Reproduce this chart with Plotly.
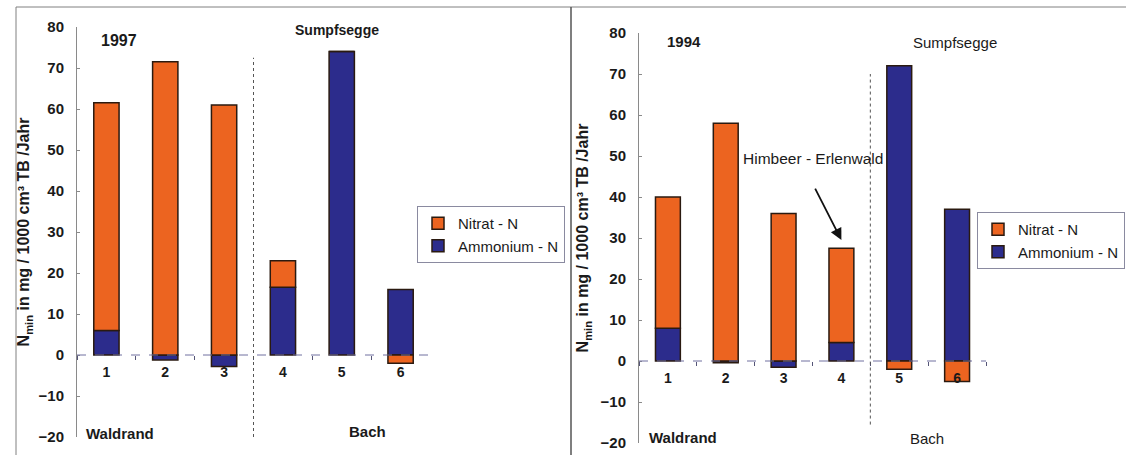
import plotly.graph_objects as go

# ---------------- data ----------------
categories = ["1", "2", "3", "4", "5", "6"]
nitrat_1997 = [55.5, 71.5, 61.0, 6.5, 0.0, -2.0]
ammonium_1997 = [6.0, -1.2, -2.8, 16.5, 74.0, 16.0]
nitrat_1994 = [32.0, 58.0, 36.0, 23.0, -2.0, -5.0]
ammonium_1994 = [8.0, -0.4, -1.5, 4.5, 72.0, 37.0]
y_tickvals = [-20, -10, 0, 10, 20, 30, 40, 50, 60, 70, 80]
series_names = ["Nitrat - N", "Ammonium - N"]

# ---------------- style ----------------
W, H = 1126, 455
FONT = "Arial, Liberation Sans, sans-serif"
ORANGE = "#EC6420"
BLUE = "#2C2C8C"
EDGE = "#2a1a10"
TXT = "#1a1a1a"


def fx(px):
    return px / W


def fy(px):
    return 1 - px / H


YMIN, YMAX = -20, 80

fig = go.Figure()

panels = [
    dict(xa="x", ya="y", nit=nitrat_1997, amm=ammonium_1997, legend="legend"),
    dict(xa="x2", ya="y2", nit=nitrat_1994, amm=ammonium_1994, legend="legend2"),
]
for p in panels:
    fig.add_trace(go.Bar(
        x=categories, y=p["amm"], name=series_names[1], xaxis=p["xa"], yaxis=p["ya"],
        marker=dict(color=BLUE, line=dict(color=EDGE, width=1.5)),
        legend=p["legend"], legendrank=2, hoverinfo="skip"))
    fig.add_trace(go.Bar(
        x=categories, y=p["nit"], name=series_names[0], xaxis=p["xa"], yaxis=p["ya"],
        marker=dict(color=ORANGE, line=dict(color=EDGE, width=1.5)),
        legend=p["legend"], legendrank=1, hoverinfo="skip"))

left_x = [fx(77), fx(430)]
left_y = [fy(437), fy(27)]
right_x = [fx(639), fx(986)]
right_y = [fy(443), fy(33)]


def zero_pos(dom):
    return dom[0] + (0 - YMIN) / (YMAX - YMIN) * (dom[1] - dom[0])


common_x = dict(
    type="category", range=[-0.5, 5.5], showgrid=False, zeroline=False, showline=False,
    ticks="outside", ticklen=4, tickcolor="#555577", tickson="boundaries",
    tickfont=dict(family=FONT, size=14, color=TXT, weight="bold"), ticklabelstandoff=7,
    anchor="free", fixedrange=True, automargin=False)


def y_axis(dom, anchor, standoff):
    return dict(
        domain=dom, anchor=anchor,
        range=[YMIN, YMAX], tickvals=y_tickvals, showgrid=False, zeroline=False,
        showline=True, linecolor="#8a8a8a", linewidth=1, ticks="inside", ticklen=3,
        tickcolor="#8a8a8a", tickfont=dict(family=FONT, size=15, color=TXT, weight="bold"),
        ticklabelstandoff=9,
        title=dict(text="N<sub>min</sub> in mg / 1000 cm³ TB /Jahr",
                   font=dict(family=FONT, size=16, color=TXT, weight="bold"), standoff=standoff),
        fixedrange=True, automargin=False)


fig.update_layout(
    xaxis=dict(common_x, domain=left_x, position=zero_pos(left_y)),
    yaxis=y_axis(left_y, "x", 4),
    xaxis2=dict(common_x, domain=right_x, position=zero_pos(right_y)),
    yaxis2=y_axis(right_y, "x2", 7),
)

fig.update_layout(
    width=W, height=H, margin=dict(l=0, r=0, t=0, b=0, autoexpand=False),
    paper_bgcolor="white", plot_bgcolor="white",
    barmode="relative", bargap=0.57,
    font=dict(family=FONT, color=TXT),
    legend=dict(x=fx(417), y=fy(206), xanchor="left", yanchor="top",
                font=dict(family=FONT, size=15, color=TXT), bgcolor="white",
                bordercolor="#8a8aa0", borderwidth=1, tracegroupgap=0, itemwidth=30),
    legend2=dict(x=fx(977), y=fy(212), xanchor="left", yanchor="top",
                 font=dict(family=FONT, size=15, color=TXT), bgcolor="white",
                 bordercolor="#8a8aa0", borderwidth=1, tracegroupgap=0, itemwidth=30),
)

shapes = []
# dashed zero lines
for xa, ya in [("x", "y"), ("x2", "y2")]:
    shapes.append(dict(type="line", xref=f"{xa} domain", yref=ya, x0=0, x1=1, y0=0, y1=0,
                       line=dict(color="#7070a0", width=1, dash="dash")))
# dotted dividers between Waldrand and Bach groups
shapes.append(dict(type="line", xref="x", yref="y", x0=2.5, x1=2.5, y0=-20, y1=72.5,
                   line=dict(color="#555555", width=1, dash="dot")))
shapes.append(dict(type="line", xref="x2", yref="y2", x0=3.5, x1=3.5, y0=-15.5, y1=70,
                   line=dict(color="#555555", width=1, dash="dot")))
# page frame
frame = "#808080"
shapes.append(dict(type="line", xref="paper", yref="paper", x0=fx(16), x1=1, y0=fy(7), y1=fy(7),
                   line=dict(color=frame, width=1)))
shapes.append(dict(type="line", xref="paper", yref="paper", x0=fx(16), x1=fx(16), y0=0, y1=fy(7),
                   line=dict(color=frame, width=1)))
shapes.append(dict(type="line", xref="paper", yref="paper", x0=fx(571), x1=fx(571), y0=0, y1=fy(7),
                   line=dict(color="#555555", width=1.5)))
fig.update_layout(shapes=shapes)


def label(text, xpx, ypx, size=15, bold=False):
    return dict(text=text, xref="paper", yref="paper", x=fx(xpx), y=fy(ypx),
                xanchor="center", yanchor="middle", showarrow=False,
                font=dict(family=FONT, size=size, color=TXT, weight="bold" if bold else "normal"))


annotations = [
    label("1997", 119, 40, 16, True),
    label("Sumpfsegge", 337, 30, 14, True),
    label("Waldrand", 120, 433, 15, True),
    label("Bach", 367, 431, 15, True),
    label("1994", 684, 41, 15, True),
    label("Sumpfsegge", 955, 42, 15),
    label("Waldrand", 683, 437, 15, True),
    label("Bach", 927, 438, 15),
    label("Himbeer - Erlenwald", 813, 158, 15.5),
    dict(text="", xref="x2", yref="y2", x=3, y=29.5, ax=-27, ay=-53,
         showarrow=True, arrowhead=2, arrowsize=1.3, arrowwidth=1.8, arrowcolor="#111111"),
]
fig.update_layout(annotations=annotations)

fig.write_html(
    "out.html",
    config={"displayModeBar": False},
    post_script="document.body.style.margin='0';document.body.style.overflow='hidden';",
)
